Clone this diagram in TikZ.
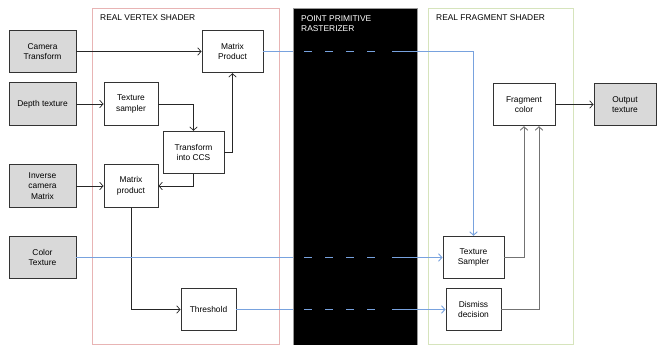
\documentclass[tikz,border=0pt]{standalone}
\usepackage{fontspec}
\setmainfont{Liberation Sans}
\usetikzlibrary{arrows.meta}

\definecolor{vsred}{RGB}{232,180,180}
\definecolor{fsgreen}{RGB}{214,228,188}
\definecolor{rayblue}{RGB}{120,162,222}
\definecolor{iogray}{RGB}{217,217,217}

\begin{document}
\begin{tikzpicture}[x=1pt, y=-1pt, font=\fontsize{8.4}{10.5}\selectfont,
	>={Straight Barb[length=3.5pt,width=7.5pt]},
	io/.style={rectangle, draw=black!80, fill=iogray, line width=0.8pt, inner sep=0pt, align=center, minimum height=42.5pt},
	op/.style={rectangle, draw=black!80, fill=white, line width=0.8pt, inner sep=0pt, align=center, minimum height=42.5pt},
	title/.style={anchor=west, inner sep=0pt, align=left},
	link/.style={->, black!85, line width=0.7pt},
	back/.style={->, black!55, line width=0.9pt},
	ray/.style={rayblue, line width=0.9pt},
	raydash/.style={rayblue, line width=0.9pt, dash pattern=on 8pt off 13pt, shorten <=11pt, shorten >=14pt}]
	\useasboundingbox (0,0) rectangle (657,345);

	% stages
	\draw [vsred, line width=0.8pt] (92,8) rectangle (279,344);
	\draw [fill=black, draw=black!40] (293,8) rectangle (417,345);
	\draw [fsgreen, line width=0.8pt] (428,8) rectangle (573,344);
	\node at (100,18) [title] (vsTitle) {REAL VERTEX SHADER};
	\node at (301,23.5) [title, white] (rsTitle) {POINT PRIMITIVE\\RASTERIZER};
	\node at (436,18) [title] (fsTitle) {REAL FRAGMENT SHADER};

	% inputs / output
	\node at (42.5,51.5) [io, minimum width=67pt] (cam) {Camera\\Transform};
	\node at (42.5,104) [io, minimum width=67pt] (depth) {Depth texture};
	\node at (42.5,186) [io, minimum width=67pt] (invcam) {Inverse\\camera\\Matrix};
	\node at (42.5,257.5) [io, minimum width=67pt] (coltex) {Color\\Texture};
	\node at (625,104.5) [io, minimum width=62pt] (outtex) {Output\\texture};

	% vertex shader
	\node at (232.5,51.5) [op, minimum width=61pt] (mp1) {Matrix\\Product};
	\node at (131,104) [op, minimum width=54pt] (tsamp1) {Texture\\sampler};
	\node at (193.5,152.5) [op, minimum width=61pt] (toccs) {Transform\\into CCS};
	\node at (131,186) [op, minimum width=54pt] (mp2) {Matrix\\product};
	\node at (208.5,309.5) [op, minimum width=55pt] (thresh) {Threshold};

	% fragment shader
	\node at (524,104.5) [op, minimum width=62pt] (fragcol) {Fragment\\color};
	\node at (473.5,257.5) [op, minimum width=61pt] (tsamp2) {Texture\\Sampler};
	\node at (473.5,309.5) [op, minimum width=55pt] (dismiss) {Dismiss\\decision};

	% edges of the black stage
	\coordinate (mpIn) at (293,51.5);
	\coordinate (mpOut) at (392,51.5);
	\coordinate (colIn) at (293,257.5);
	\coordinate (colOut) at (392,257.5);
	\coordinate (thIn) at (293,309.5);
	\coordinate (thOut) at (392,309.5);

	\draw [link] (cam) -- (mp1);
	\draw [link] (depth) -- (tsamp1);
	\draw [link] (invcam) -- (mp2);
	\draw [link] (tsamp1.east) -| (toccs.north);
	\draw [link] (toccs.east) -| (mp1.south);
	\draw [link] (toccs.south) |- (mp2.east);
	\draw [link] (mp2.south) |- (thresh.west);
	\draw [link] (fragcol) -- (outtex);
	\draw [back] (tsamp2.east) -| (fragcol.south);
	\draw [back] (dismiss.east) -| ([xshift=15pt]fragcol.south);

	\draw [ray] (mp1.east) -- (mpIn);
	\draw [raydash] (mpIn) -- (mpOut);
	\draw [ray, ->] (mpOut) -| (tsamp2.north);
	\draw [ray] (coltex.east) -- (colIn);
	\draw [raydash] (colIn) -- (colOut);
	\draw [ray, ->] (colOut) -- (tsamp2.west);
	\draw [ray] (thresh.east) -- (thIn);
	\draw [raydash] (thIn) -- (thOut);
	\draw [ray, ->] (thOut) -- (dismiss.west);
\end{tikzpicture}
\end{document}
